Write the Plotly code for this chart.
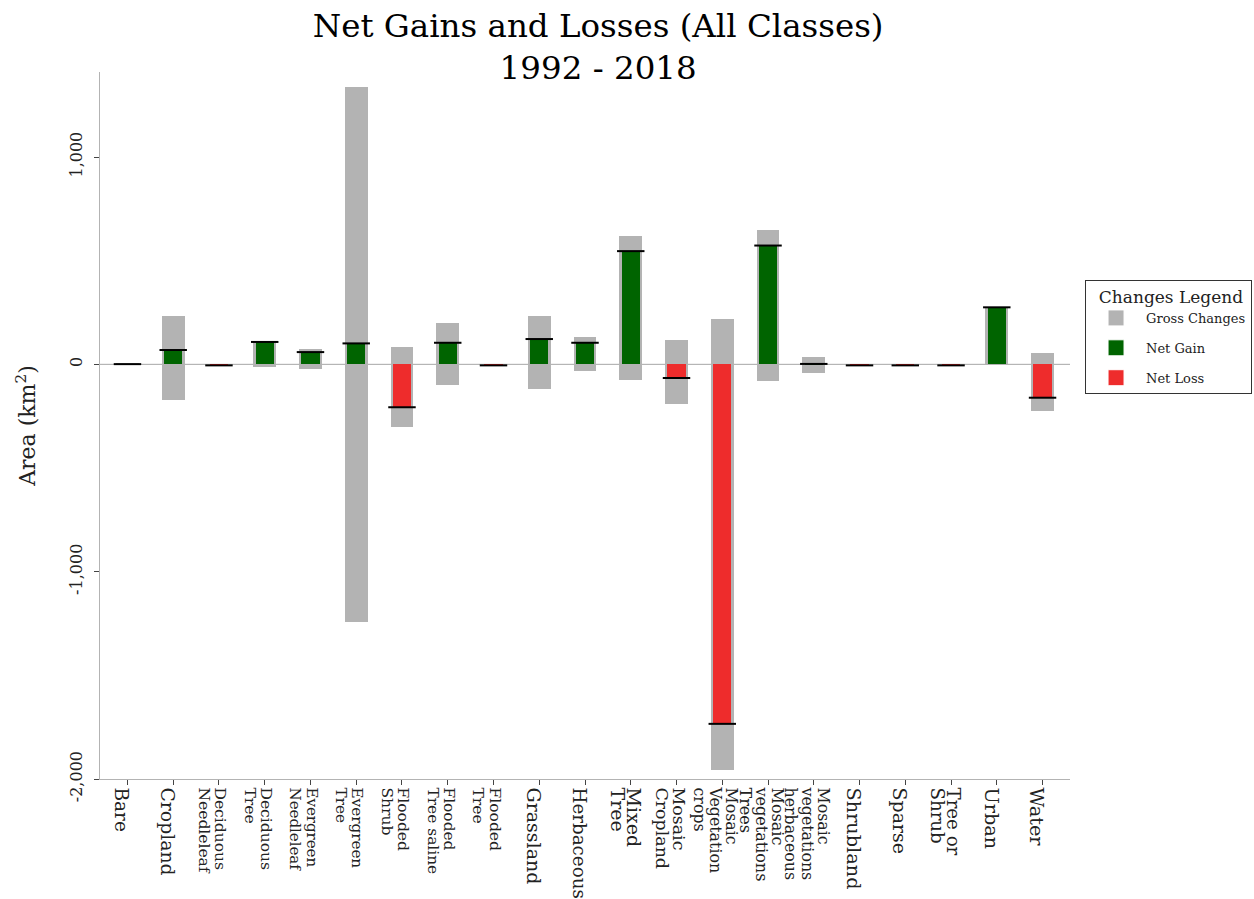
import plotly.graph_objects as go

# Land-cover classes (x axis) and their tick labels
categories = [
    "Bare", "Cropland", "Deciduous Needleleaf", "Deciduous Tree",
    "Evergreen Needleleaf", "Evergreen Tree", "Flooded Shrub",
    "Flooded Tree saline", "Flooded Tree", "Grassland", "Herbaceous",
    "Mixed Tree", "Mosaic Cropland", "Mosaic Vegetation crops",
    "Mosaic vegetations Trees", "Mosaic vegetations herbaceous",
    "Shrubland", "Sparse", "Tree or Shrub", "Urban", "Water",
]
tick_labels = [
    "Bare", "Cropland", "Deciduous<br>Needleleaf", "Deciduous<br>Tree",
    "Evergreen<br>Needleleaf", "Evergreen<br>Tree", "Flooded<br>Shrub",
    "Flooded<br>Tree saline", "Flooded<br>Tree", "Grassland", "Herbaceous",
    "Mixed<br>Tree", "Mosaic<br>Cropland", "Mosaic<br>Vegetation<br>crops",
    "Mosaic<br>vegetations<br>Trees", "Mosaic<br>vegetations<br>herbaceous",
    "Shrubland", "Sparse", "Tree or<br>Shrub", "Urban", "Water",
]

# Area changes 1992 - 2018 (km²)
gross_gain = [2, 233, 0, 108, 72, 1337, 83, 198, 0, 233, 130,
              619, 119, 217, 647, 36, 0, 0, 0, 275, 56]
gross_loss = [-1, -174, -6, -13, -21, -1242, -300, -100, -6, -121, -34,
              -77, -193, -1958, -82, -43, -6, -6, -6, -2, -223]
net_change = [1, 69, -5, 108, 59, 101, -207, 104, -5, 122, 104,
              546, -66, -1734, 573, 2, -5, -5, -5, 275, -161]

y_tick_values = [1000, 0, -1000, -2000]
y_tick_labels = ["1,000", "0", "-1,000", "-2,000"]

# styling
FONT = "DejaVu Serif"
GROSS_COLOR = "#b3b3b3"
GAIN_COLOR = "#006400"
LOSS_COLOR = "#ee2c2c"
label_sizes = [18.5, 18.8, 15.5, 15.5, 15, 15.2, 15.5, 15.4, 15.5, 19, 18.3,
               19, 17.4, 15.8, 16, 15.8, 19.3, 19, 18.2, 19.3, 19.3]

x = list(range(len(categories)))


def styled(label, size):
    return "<br>".join(
        f'<span style="font-size:{size}px">{part}</span>'
        for part in label.split("<br>")
    )


ticktext = [styled(t, s) for t, s in zip(tick_labels, label_sizes)]

fig = go.Figure()

# gross changes: span from total loss to total gain
fig.add_trace(go.Bar(
    x=x, y=[g - l for g, l in zip(gross_gain, gross_loss)], base=gross_loss,
    width=0.5, marker=dict(color=GROSS_COLOR, line=dict(width=0)),
    name="Gross Changes", showlegend=False, customdata=categories,
    hovertemplate="%{customdata}<extra>Gross Changes</extra>",
))

# net change bars, split by sign
fig.add_trace(go.Bar(
    x=x, y=[v if v > 0 else 0 for v in net_change], width=0.4,
    marker=dict(color=GAIN_COLOR, line=dict(width=0)),
    name="Net Gain", showlegend=False, customdata=categories,
    hovertemplate="%{customdata}: %{y}<extra>Net Gain</extra>",
))
fig.add_trace(go.Bar(
    x=x, y=[v if v < 0 else 0 for v in net_change], width=0.4,
    marker=dict(color=LOSS_COLOR, line=dict(width=0)),
    name="Net Loss", showlegend=False, customdata=categories,
    hovertemplate="%{customdata}: %{y}<extra>Net Loss</extra>",
))

# legend keys
for name, color in [("Gross Changes", GROSS_COLOR), ("Net Gain", GAIN_COLOR),
                    ("Net Loss", LOSS_COLOR)]:
    fig.add_trace(go.Scatter(
        x=[None], y=[None], mode="markers", name=name, legendgroup=name,
        marker=dict(symbol="square", size=16, color=color,
                    line=dict(color="white", width=1)),
    ))

# black marks at each net value
for xi, v in zip(x, net_change):
    fig.add_shape(type="line", xref="x", yref="y", x0=xi - 0.3, x1=xi + 0.3,
                  y0=v, y1=v, line=dict(color="black", width=2), layer="above")

# zero reference line
fig.add_hline(y=0, line=dict(color="#a6a6a6", width=1), layer="below")

fig.update_layout(
    width=1254, height=899,
    margin=dict(l=100, r=184, t=72, b=120, autoexpand=False),
    paper_bgcolor="white", plot_bgcolor="white",
    barmode="overlay", bargap=0,
    font=dict(family=FONT, color="#222222"),
    title=dict(
        text="Net Gains and Losses (All Classes)<br>1992 - 2018",
        font=dict(family=FONT, size=32.5, color="black"),
        xref="container", x=0.477, xanchor="center",
        yref="container", y=0.959, yanchor="top",
    ),
    legend=dict(
        title=dict(text="&nbsp;&nbsp;Changes Legend",
                   font=dict(size=17, color="#222222")),
        font=dict(size=13, color="#222222"),
        x=1.0155, xanchor="left", y=0.706, yanchor="top",
        bordercolor="#333333", borderwidth=1, bgcolor="white",
        tracegroupgap=10, itemwidth=50,
    ),
    xaxis=dict(
        range=[-0.6, 20.6], tickvals=x, ticktext=ticktext, tickangle=90,
        tickfont=dict(size=12.5, color="#222222"), ticklabelshift=-8,
        showgrid=False, zeroline=False, automargin=False,
        showline=True, linecolor="#b3b3b3", linewidth=1,
        ticks="outside", ticklen=5, tickcolor="#444444", tickwidth=1,
    ),
    yaxis=dict(
        range=[-2000, 1410], tickvals=y_tick_values, ticktext=y_tick_labels,
        tickangle=-90, tickfont=dict(size=16, color="#222222"),
        ticklabelstandoff=6,
        showgrid=False, zeroline=False, automargin=False,
        showline=True, linecolor="#b3b3b3", linewidth=1,
        ticks="outside", ticklen=5, tickcolor="#444444", tickwidth=1,
        title=dict(text="Area (km<sup>2</sup>)", font=dict(size=22, color="#222222"),
                   standoff=24),
    ),
)

fig.write_html("out.html")
